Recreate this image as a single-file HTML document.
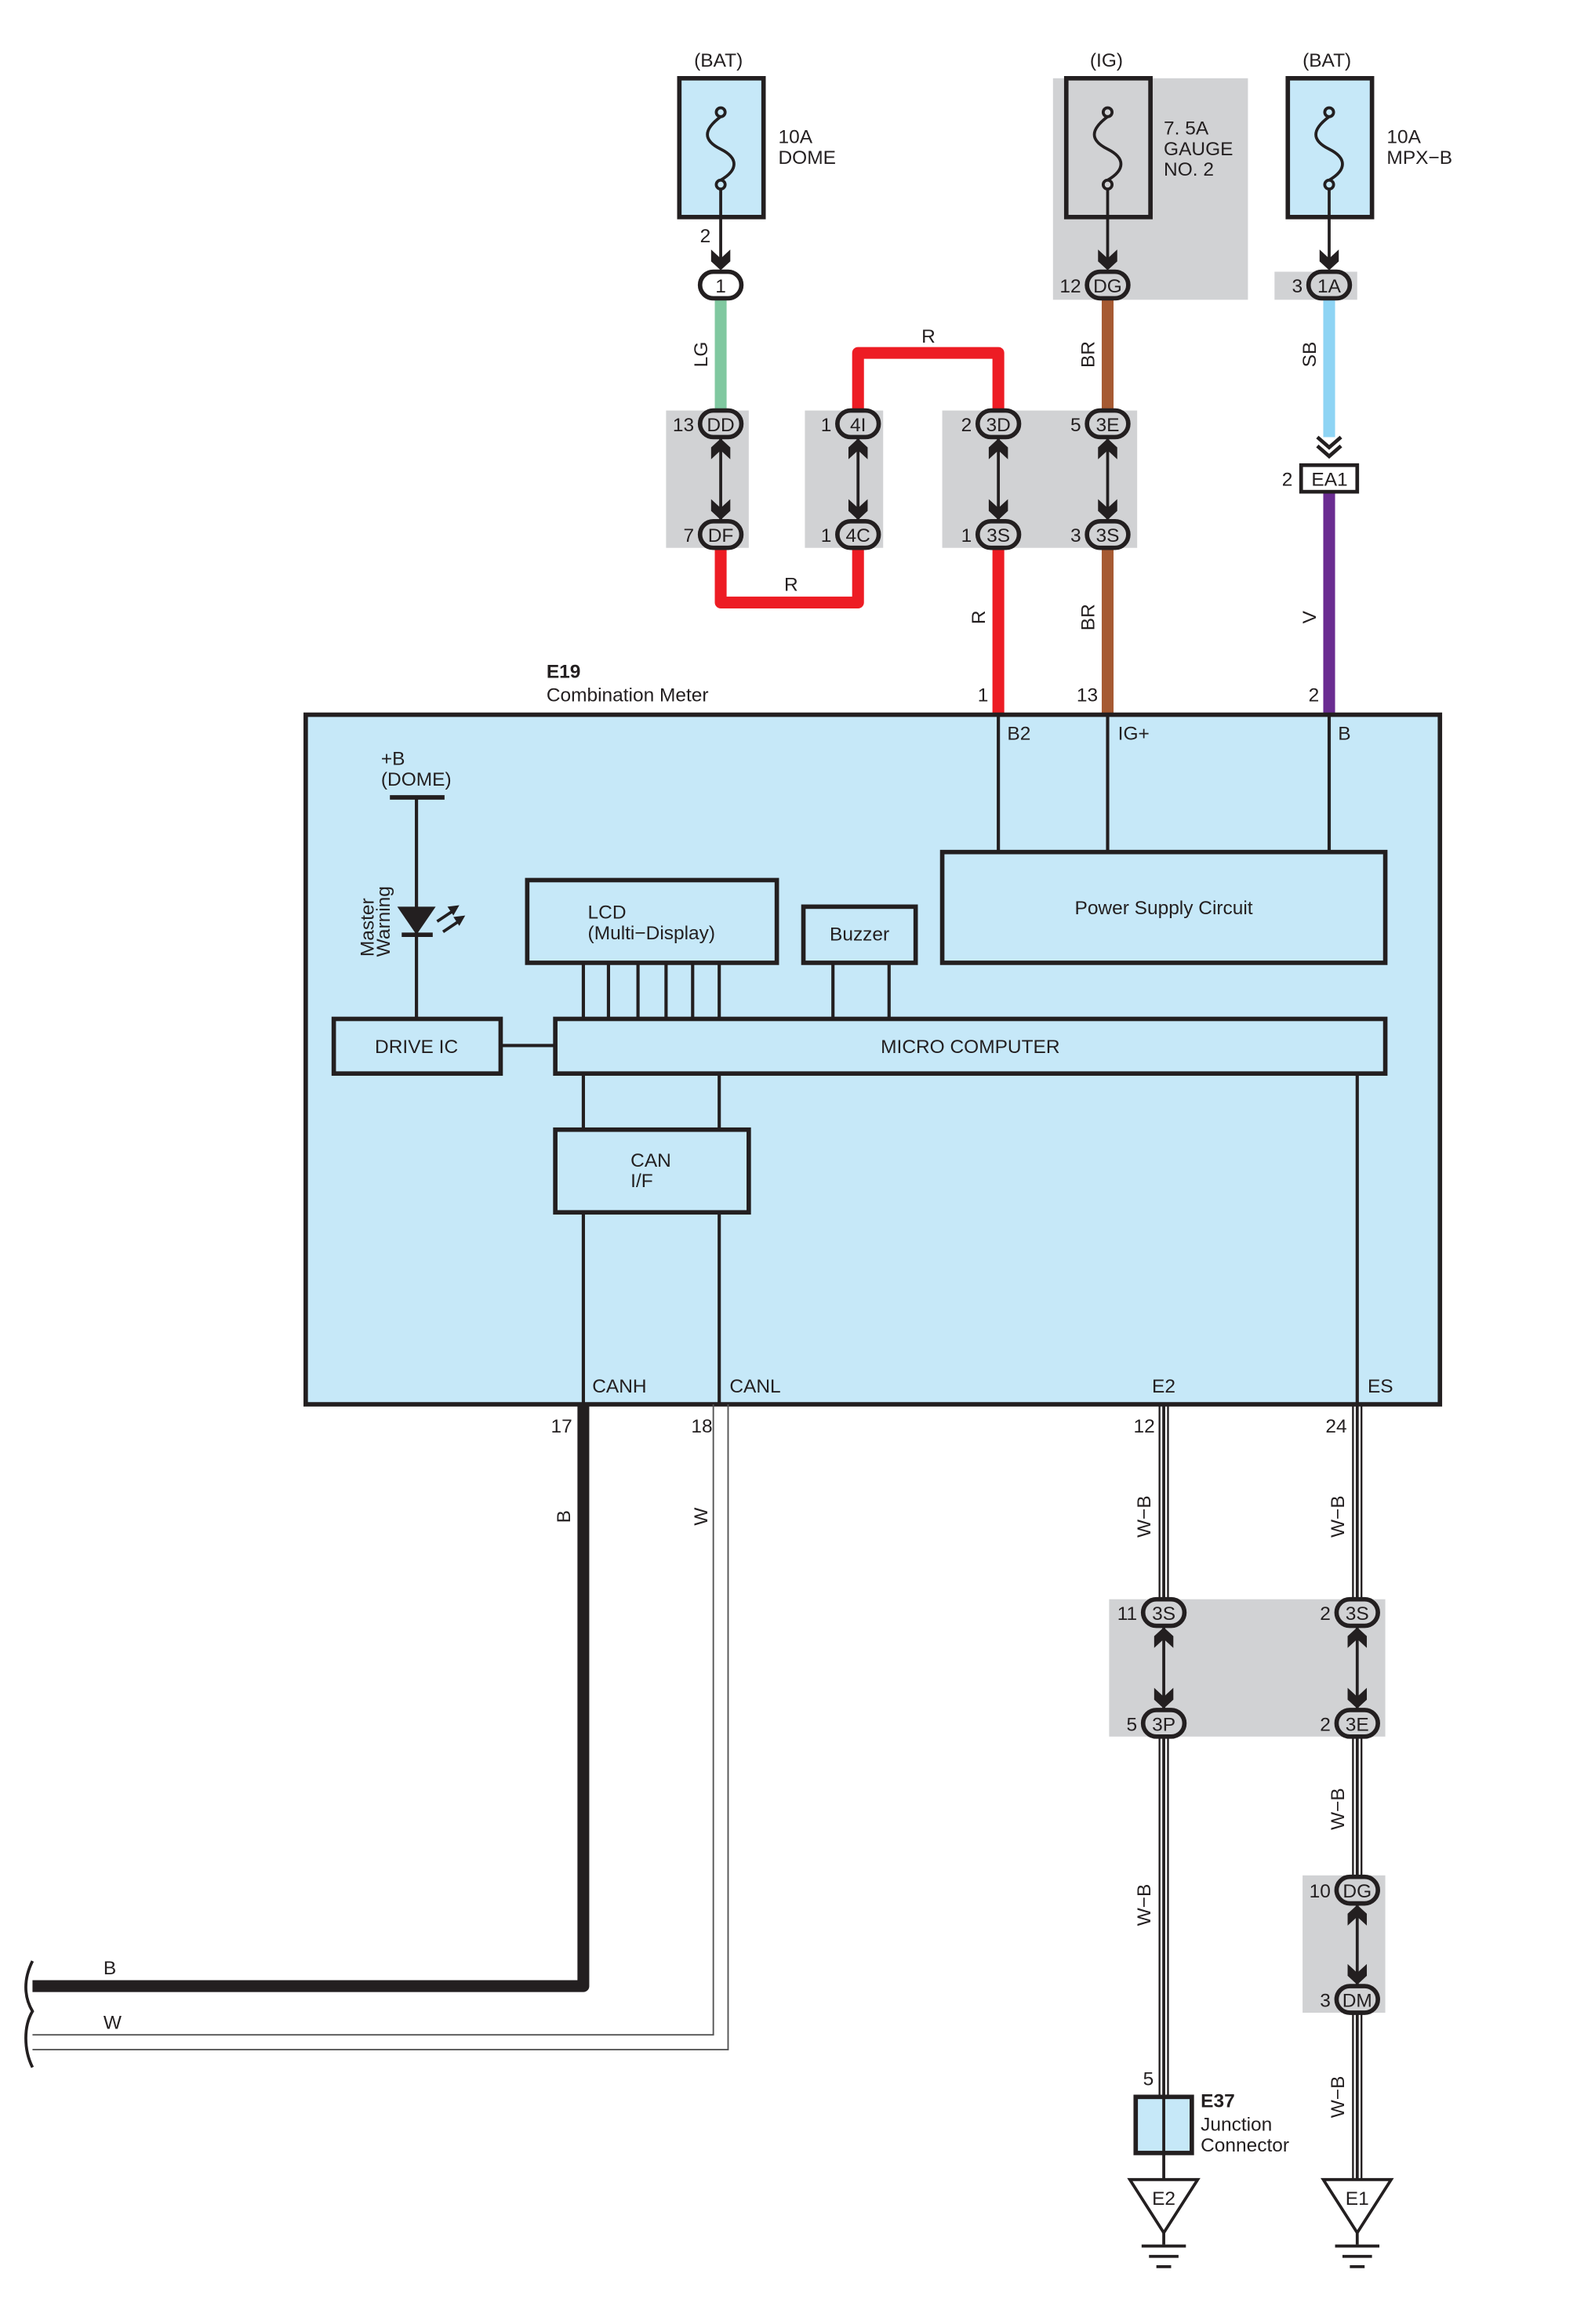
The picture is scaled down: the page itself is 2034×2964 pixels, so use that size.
<!DOCTYPE html>
<html><head><meta charset="utf-8"><style>
html,body{margin:0;padding:0;background:#fff}
svg{display:block}
text{font-family:"Liberation Sans",sans-serif;font-size:13px;fill:#231f20}
</style></head><body>
<svg width="2034" height="2964" viewBox="0 0 1080 1573.8" xmlns="http://www.w3.org/2000/svg">
<defs>
<g id="ad"><polygon points="-6.5,-14 0,-8 6.5,-14 6.5,-6 0,0 -6.5,-6" fill="#231f20"/></g>
<g id="au"><polygon points="-6.5,14 0,8 6.5,14 6.5,6 0,0 -6.5,6" fill="#231f20"/></g>
</defs>
<!-- gray backgrounds -->
<g fill="#d1d2d4">
<rect x="713" y="53" width="132" height="150"/>
<rect x="863" y="184" width="56" height="19"/>
<rect x="451" y="278" width="56" height="93"/>
<rect x="545" y="278" width="53" height="93"/>
<rect x="638" y="278" width="132" height="93"/>
<rect x="751" y="1083" width="187" height="93"/>
<rect x="882" y="1270" width="56" height="93"/>
</g>
<!-- fuses -->
<g stroke="#231f20" stroke-width="3">
<rect x="460" y="53" width="57" height="94" fill="#c6e8f8"/>
<rect x="722" y="53" width="57" height="94" fill="#d1d2d4"/>
<rect x="872" y="53" width="57" height="94" fill="#c6e8f8"/>
</g>
<g fill="none" stroke="#231f20" stroke-width="2">
<path d="M488,79 C476,88 476,95 488,101 C500,107 500,115 488,122"/><circle cx="488" cy="76" r="3"/><circle cx="488" cy="125" r="3"/>
<path d="M750,79 C738,88 738,95 750,101 C762,107 762,115 750,122"/><circle cx="750" cy="76" r="3"/><circle cx="750" cy="125" r="3"/>
<path d="M900,79 C888,88 888,95 900,101 C912,107 912,115 900,122"/><circle cx="900" cy="76" r="3"/><circle cx="900" cy="125" r="3"/>
<line x1="488" y1="128" x2="488" y2="180"/><line x1="750" y1="128" x2="750" y2="180"/><line x1="900" y1="128" x2="900" y2="180"/>
</g>
<use href="#ad" x="488" y="183"/><use href="#ad" x="750" y="183"/><use href="#ad" x="900" y="183"/>
<text x="470" y="45">(BAT)</text><text x="738" y="45">(IG)</text><text x="882" y="45">(BAT)</text>
<text x="527" y="97">10A</text><text x="527" y="111">DOME</text>
<text x="788" y="91">7. 5A</text><text x="788" y="105">GAUGE</text><text x="788" y="119">NO. 2</text>
<text x="939" y="97">10A</text><text x="939" y="111">MPX−B</text>
<text x="474" y="164">2</text>
<!-- colored wires -->
<g fill="none" stroke-width="8" stroke-linejoin="round">
<line x1="488" y1="202" x2="488" y2="278" stroke="#80c8a0"/>
<path d="M488,371 V408 H581 V371" stroke="#ed1c24"/>
<path d="M581,278 V239 H676 V278" stroke="#ed1c24"/>
<line x1="676" y1="371" x2="676" y2="484" stroke="#ed1c24"/>
<line x1="750" y1="202" x2="750" y2="278" stroke="#a65a32"/>
<line x1="750" y1="371" x2="750" y2="484" stroke="#a65a32"/>
<line x1="900" y1="202" x2="900" y2="296" stroke="#8ed4f4"/>
<line x1="900" y1="333" x2="900" y2="484" stroke="#6a2c91"/>
</g>
<g fill="none" stroke="#231f20" stroke-width="2.5"><path d="M892,296 L900,303 L908,296"/><path d="M892,302 L900,309 L908,302"/></g>
<rect x="881" y="315" width="38" height="18" fill="#fff" stroke="#231f20" stroke-width="2.5"/>
<text x="888" y="329">EA1</text><text x="868" y="329">2</text>
<!-- W-B wires -->
<g fill="none">
<path d="M788,951 V1083 M788,1176 V1420 M919,951 V1083 M919,1176 V1271 M919,1363 V1476" stroke="#231f20" stroke-width="7"/>
<path d="M788,951 V1083 M788,1176 V1420 M919,951 V1083 M919,1176 V1271 M919,1363 V1476" stroke="#fff" stroke-width="4.5"/>
<path d="M788,951 V1083 M788,1176 V1420 M919,951 V1083 M919,1176 V1271 M919,1363 V1476" stroke="#231f20" stroke-width="2"/>
<line x1="788" y1="1458" x2="788" y2="1476" stroke="#231f20" stroke-width="2"/>
</g>
<!-- double arrows -->
<g stroke="#231f20" stroke-width="2">
<line x1="488" y1="296" x2="488" y2="353"/><line x1="581" y1="296" x2="581" y2="353"/>
<line x1="676" y1="296" x2="676" y2="353"/><line x1="750" y1="296" x2="750" y2="353"/>
<line x1="788" y1="1101" x2="788" y2="1158"/><line x1="919" y1="1101" x2="919" y2="1158"/>
<line x1="919" y1="1289" x2="919" y2="1345"/>
</g>
<use href="#au" x="488" y="297"/><use href="#ad" x="488" y="352"/>
<use href="#au" x="581" y="297"/><use href="#ad" x="581" y="352"/>
<use href="#au" x="676" y="297"/><use href="#ad" x="676" y="352"/>
<use href="#au" x="750" y="297"/><use href="#ad" x="750" y="352"/>
<use href="#au" x="788" y="1102"/><use href="#ad" x="788" y="1157"/>
<use href="#au" x="919" y="1102"/><use href="#ad" x="919" y="1157"/>
<use href="#au" x="919" y="1290"/><use href="#ad" x="919" y="1344"/>
<!-- wire labels -->
<text x="479" y="240" transform="rotate(-90 479 240)" text-anchor="middle">LG</text>
<text x="741" y="240" transform="rotate(-90 741 240)" text-anchor="middle">BR</text>
<text x="741" y="418" transform="rotate(-90 741 418)" text-anchor="middle">BR</text>
<text x="667" y="418" transform="rotate(-90 667 418)" text-anchor="middle">R</text>
<text x="891" y="240" transform="rotate(-90 891 240)" text-anchor="middle">SB</text>
<text x="891" y="418" transform="rotate(-90 891 418)" text-anchor="middle">V</text>
<text x="624" y="232">R</text><text x="531" y="400">R</text>
<text x="662" y="475">1</text><text x="729" y="475">13</text><text x="886" y="475">2</text>
<!-- main box -->
<rect x="207" y="484" width="768" height="467" fill="#c6e8f8" stroke="#231f20" stroke-width="3"/>
<text x="370" y="459" style="font-weight:bold">E19</text>
<text x="370" y="475">Combination Meter</text>
<g stroke="#231f20" stroke-width="2.2" fill="none">
<line x1="676" y1="484" x2="676" y2="577"/><line x1="750" y1="484" x2="750" y2="577"/><line x1="900" y1="484" x2="900" y2="577"/>
<line x1="264" y1="540" x2="301" y2="540" stroke-width="3"/>
<line x1="282" y1="540" x2="282" y2="690"/>
<line x1="272" y1="633" x2="293" y2="633" stroke-width="3"/>
<line x1="395" y1="652" x2="395" y2="690"/><line x1="412" y1="652" x2="412" y2="690"/><line x1="432" y1="652" x2="432" y2="690"/>
<line x1="451" y1="652" x2="451" y2="690"/><line x1="469" y1="652" x2="469" y2="690"/><line x1="487" y1="652" x2="487" y2="690"/>
<line x1="564" y1="652" x2="564" y2="690"/><line x1="602" y1="652" x2="602" y2="690"/>
<line x1="339" y1="708" x2="376" y2="708"/>
<line x1="395" y1="727" x2="395" y2="765"/><line x1="487" y1="727" x2="487" y2="765"/>
<line x1="395" y1="821" x2="395" y2="951"/><line x1="487" y1="821" x2="487" y2="951"/>
<line x1="919" y1="727" x2="919" y2="951"/>
</g>
<g stroke="#231f20" stroke-width="3" fill="#c6e8f8">
<rect x="638" y="577" width="300" height="75"/>
<rect x="357" y="596" width="169" height="56"/>
<rect x="544" y="614" width="76" height="38"/>
<rect x="226" y="690" width="113" height="37"/>
<rect x="376" y="690" width="562" height="37"/>
<rect x="376" y="765" width="131" height="56"/>
</g>
<polygon points="269,614 295,614 282,633" fill="#231f20"/>
<g stroke="#231f20" stroke-width="2"><line x1="296" y1="624" x2="308" y2="616"/><line x1="300" y1="631" x2="312" y2="623"/></g>
<polygon points="311,613 303,614 307,620" fill="#231f20"/><polygon points="315,620 307,621 311,627" fill="#231f20"/>
<text x="253" y="628" transform="rotate(-90 253 628)" text-anchor="middle">Master</text>
<text x="264" y="624" transform="rotate(-90 264 624)" text-anchor="middle">Warning</text>
<text x="258" y="518">+B</text><text x="258" y="532">(DOME)</text>
<text x="682" y="501">B2</text><text x="757" y="501">IG+</text><text x="906" y="501">B</text>
<text x="788" y="619" text-anchor="middle">Power Supply Circuit</text>
<text x="398" y="622">LCD</text><text x="398" y="636">(Multi−Display)</text>
<text x="582" y="637" text-anchor="middle">Buzzer</text>
<text x="282" y="713" text-anchor="middle">DRIVE IC</text>
<text x="657" y="713" text-anchor="middle">MICRO COMPUTER</text>
<text x="427" y="790">CAN</text><text x="427" y="804">I/F</text>
<text x="401" y="943">CANH</text><text x="494" y="943">CANL</text><text x="780" y="943">E2</text><text x="926" y="943">ES</text>
<!-- bottom wires -->
<path d="M395,951 V1345 H22" fill="none" stroke="#231f20" stroke-width="8" stroke-linejoin="round"/>
<path d="M483,951 V1378 H22 M493,951 V1388 H22" fill="none" stroke="#555" stroke-width="1"/>
<g fill="none" stroke="#231f20" stroke-width="2">
<path d="M22,1328 C16,1340 16,1352 22,1362 C16,1372 16,1388 22,1400"/>
</g>
<text x="373" y="970">17</text><text x="468" y="970">18</text>
<text x="386" y="1027" transform="rotate(-90 386 1027)" text-anchor="middle">B</text>
<text x="479" y="1027" transform="rotate(-90 479 1027)" text-anchor="middle">W</text>
<text x="70" y="1337">B</text><text x="70" y="1374">W</text>
<text x="782" y="970" text-anchor="end">12</text><text x="912" y="970" text-anchor="end">24</text>
<text x="779" y="1027" transform="rotate(-90 779 1027)" text-anchor="middle">W−B</text>
<text x="910" y="1027" transform="rotate(-90 910 1027)" text-anchor="middle">W−B</text>
<text x="779" y="1290" transform="rotate(-90 779 1290)" text-anchor="middle">W−B</text>
<text x="910" y="1225" transform="rotate(-90 910 1225)" text-anchor="middle">W−B</text>
<text x="910" y="1420" transform="rotate(-90 910 1420)" text-anchor="middle">W−B</text>
<text x="774" y="1412">5</text>
<rect x="769" y="1420" width="38" height="38" fill="#c6e8f8" stroke="#231f20" stroke-width="3"/>
<line x1="788" y1="1420" x2="788" y2="1458" stroke="#231f20" stroke-width="2"/>
<text x="813" y="1427" style="font-weight:bold">E37</text><text x="813" y="1443">Junction</text><text x="813" y="1457">Connector</text>
<!-- grounds -->
<g fill="#fff" stroke="#231f20" stroke-width="2">
<polygon points="765,1476 811,1476 788,1512"/><polygon points="896,1476 942,1476 919,1512"/>
</g>
<g stroke="#231f20" stroke-width="2">
<line x1="788" y1="1512" x2="788" y2="1520"/><line x1="773" y1="1521" x2="803" y2="1521"/><line x1="778" y1="1528" x2="798" y2="1528"/><line x1="783" y1="1535" x2="793" y2="1535"/>
<line x1="919" y1="1512" x2="919" y2="1520"/><line x1="904" y1="1521" x2="934" y2="1521"/><line x1="909" y1="1528" x2="929" y2="1528"/><line x1="914" y1="1535" x2="924" y2="1535"/>
</g>
<text x="788" y="1493" text-anchor="middle">E2</text><text x="919" y="1493" text-anchor="middle">E1</text>
<!-- connectors -->
<g stroke="#231f20" stroke-width="3" fill="#d1d2d4">
<rect x="474" y="184" width="28" height="18" rx="9" fill="#fff"/>
<rect x="736" y="184" width="28" height="18" rx="9"/>
<rect x="886" y="184" width="28" height="18" rx="9"/>
<rect x="474" y="278" width="28" height="18" rx="9"/><rect x="474" y="353" width="28" height="18" rx="9"/>
<rect x="567" y="278" width="28" height="18" rx="9"/><rect x="567" y="353" width="28" height="18" rx="9"/>
<rect x="662" y="278" width="28" height="18" rx="9"/><rect x="662" y="353" width="28" height="18" rx="9"/>
<rect x="736" y="278" width="28" height="18" rx="9"/><rect x="736" y="353" width="28" height="18" rx="9"/>
<rect x="774" y="1083" width="28" height="18" rx="9"/><rect x="774" y="1158" width="28" height="18" rx="9"/>
<rect x="905" y="1083" width="28" height="18" rx="9"/><rect x="905" y="1158" width="28" height="18" rx="9"/>
<rect x="905" y="1271" width="28" height="18" rx="9"/><rect x="905" y="1345" width="28" height="18" rx="9"/>
</g>
<g text-anchor="middle">
<text x="488" y="198">1</text><text x="750" y="198">DG</text><text x="900" y="198">1A</text>
<text x="488" y="292">DD</text><text x="488" y="367">DF</text>
<text x="581" y="292">4I</text><text x="581" y="367">4C</text>
<text x="676" y="292">3D</text><text x="676" y="367">3S</text>
<text x="750" y="292">3E</text><text x="750" y="367">3S</text>
<text x="788" y="1097">3S</text><text x="788" y="1172">3P</text>
<text x="919" y="1097">3S</text><text x="919" y="1172">3E</text>
<text x="919" y="1285">DG</text><text x="919" y="1359">DM</text>
</g>
<g text-anchor="end">
<text x="732" y="198">12</text><text x="882" y="198">3</text>
<text x="470" y="292">13</text><text x="470" y="367">7</text>
<text x="563" y="292">1</text><text x="563" y="367">1</text>
<text x="658" y="292">2</text><text x="658" y="367">1</text>
<text x="732" y="292">5</text><text x="732" y="367">3</text>
<text x="770" y="1097">11</text><text x="770" y="1172">5</text>
<text x="901" y="1097">2</text><text x="901" y="1172">2</text>
<text x="901" y="1285">10</text><text x="901" y="1359">3</text>
</g>
</svg>
</body></html>
